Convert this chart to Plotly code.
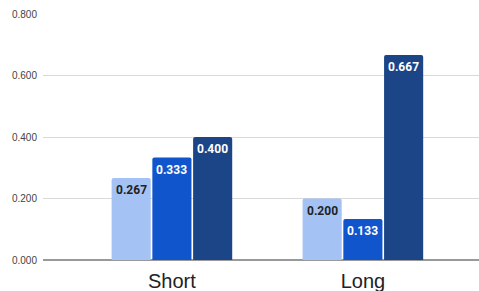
import plotly.graph_objects as go

categories = ["Short", "Long"]
series_a = [0.267, 0.200]
series_b = [0.333, 0.133]
series_c = [0.400, 0.667]
y_ticks = [0.0, 0.2, 0.4, 0.6, 0.8]

colors = ["#a4c2f4", "#1155cc", "#1c4587"]
text_colors = ["#222222", "#ffffff", "#ffffff"]

x_range = [-0.675, 1.608]
plot_w = 479 - 43
bargap = 0.36
px_per_unit = plot_w / (x_range[1] - x_range[0])
slot_px = (1 - bargap) * px_per_unit / 3

fig = go.Figure()
all_series = [series_a, series_b, series_c]
for i, (vals, col, tc) in enumerate(zip(all_series, colors, text_colors)):
    fig.add_trace(go.Bar(
        x=categories, y=vals, marker=dict(color=col, line=dict(width=0)),
        textposition="none", cliponaxis=False,
    ))
    for cat, v in zip(categories, vals):
        fig.add_annotation(
            x=cat, y=v, text=f"<b>{v:.3f}</b>", showarrow=False,
            xshift=(i - 1) * slot_px, yshift=-12,
            font=dict(family="Roboto", size=12, color=tc),
        )

fig.update_layout(
    width=479, height=291,
    margin=dict(l=43, r=0, t=14, b=31),
    barmode="group", bargap=bargap, bargroupgap=0.04,
    barcornerradius=2,
    plot_bgcolor="white", paper_bgcolor="white",
    showlegend=False,
    xaxis=dict(
        range=x_range, showgrid=False, showline=False,
        tickfont=dict(family="Liberation Sans, Arial", size=20, color="#222222"),
        ticks="", fixedrange=True, ticklabelstandoff=7,
    ),
    yaxis=dict(
        range=[0, 0.8], tickvals=y_ticks, tickformat=".3f",
        showgrid=True, gridcolor="#d9d9d9", gridwidth=1,
        zeroline=True, zerolinecolor="#999999", zerolinewidth=1.5,
        tickfont=dict(family="Liberation Sans, Arial", size=10, color="#444444"),
        ticks="", ticklen=0, fixedrange=True, ticklabelstandoff=5,
    ),
)

fig.write_html(
    "out.html",
    config={"displayModeBar": False},
    post_script="document.body.style.margin='0';document.body.style.overflow='hidden';",
)
